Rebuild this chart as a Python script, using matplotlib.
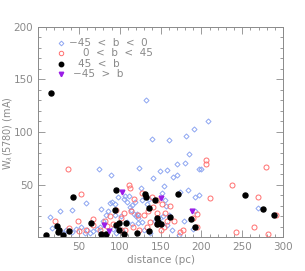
import matplotlib
matplotlib.use("Agg")
import matplotlib.pyplot as plt
from matplotlib.ticker import MultipleLocator

# -45 < b < 0
blue_x = [132, 208, 191, 181, 140, 160, 185, 170, 180, 199, 197, 124, 74, 149, 158,
          170, 165, 89, 141, 154, 174, 184, 197, 192, 59, 41, 27, 14, 17, 269, 77,
          172, 190, 179, 192, 126,
          88, 91, 94, 98, 105, 107, 111, 109, 113, 114, 117, 121, 120, 127, 136, 133,
          152, 155, 157, 160, 153, 149, 143, 127, 122, 115, 109, 101, 94, 86, 83, 80,
          76, 72, 67, 60, 53, 47, 41, 34, 30, 58, 64, 92, 96, 103, 130, 137, 158, 164,
          115, 119, 122]
blue_y = [130, 110, 103, 96, 93, 92, 79, 70, 71, 65, 65, 66, 65, 63, 64,
          59, 57, 59, 56, 49, 43, 45, 40, 38, 33, 26, 25, 19, 9, 28, 27,
          2, 8, 16, 25, 47,
          33, 34, 32, 38, 36, 39, 39, 34, 29, 26, 22, 22, 20, 35, 36, 32,
          42, 35, 30, 21, 20, 18, 16, 15, 14, 13, 15, 20, 21, 25, 21, 16,
          10, 8, 6, 7, 10, 8, 5, 7, 4, 4, 4, 8, 4, 7, 7, 4, 12, 7,
          31, 34, 18]

# 0 < b < 45
red_x = [36, 206, 206, 279, 237, 210, 269, 242, 265, 282, 291, 194, 195, 177, 52, 49,
         21, 50, 38, 67, 59, 111, 112, 127, 117, 139, 145, 152, 161, 141, 135, 146,
         130, 122, 114, 105, 96, 101, 88, 82, 92, 84, 76, 67, 137, 146, 154, 158, 166,
         150, 133, 123, 116, 107, 101, 174, 190, 156]
red_y = [65, 73, 70, 67, 50, 37, 38, 5, 10, 3, 21, 22, 10, 7, 41, 16,
         16, 6, 9, 17, 7, 50, 47, 42, 36, 38, 35, 32, 30, 29, 25, 23,
         21, 21, 25, 23, 26, 18, 20, 16, 13, 11, 7, 12, 15, 13, 10, 16, 16,
         7, 10, 7, 10, 7, 7, 5, 18, 23]

# 45 < b
black_x = [16, 10, 23, 24, 26, 30, 38, 43, 65, 77, 83, 96, 94, 95, 99, 99, 105, 108,
           121, 131, 132, 136, 143, 171, 162, 146, 147, 146, 151, 136, 187, 192, 253,
           276, 289]
black_y = [137, 2, 11, 5, 7, 2, 6, 38, 14, 3, 3, 45, 26, 12, 14, 7, 3, 14,
           4, 41, 38, 28, 35, 41, 19, 18, 15, 13, 13, 6, 17, 10, 40,
           27, 21]

# -45 > b
purple_x = [103, 150, 189, 81, 87]
purple_y = [43, 37, 25, 12, 6]

legend_labels = ["\u221245  <  b  <  0", "0  <  b  <  45", "45  <  b", "\u221245  >  b"]

gray = "#8a8a8a"
plt.rcParams["font.family"] = "DejaVu Sans"

fig = plt.figure(figsize=(3.05, 2.71), dpi=100)
ax = fig.add_axes([0.125, 0.124, 0.803, 0.778])

ax.plot(blue_x, blue_y, "D", ms=2.6, mfc="none", mec="#8ea6f2", mew=0.7, ls="none")
ax.plot(red_x, red_y, "o", ms=3.6, mfc="none", mec="#ff6f6f", mew=0.7, ls="none")
ax.plot(black_x, black_y, "o", ms=3.6, color="black", ls="none")
ax.plot(purple_x, purple_y, "v", ms=3.4, color="#9a1de6", ls="none")

ax.set_xlim(0, 300)
ax.set_ylim(0, 200)
ax.xaxis.set_minor_locator(MultipleLocator(10))
ax.yaxis.set_minor_locator(MultipleLocator(10))
ax.set_xticks([50, 100, 150, 200, 250, 300])
ax.set_yticks([50, 100, 150, 200])
ax.tick_params(which="both", direction="in", top=True, right=True, color=gray,
               labelcolor=gray, labelsize=7.5, width=0.6)
ax.tick_params(which="major", length=5)
ax.tick_params(which="minor", length=2.5)
for s in ax.spines.values():
    s.set_color(gray)
    s.set_linewidth(0.7)

ax.set_xlabel("distance (pc)", color=gray, fontsize=7.5, labelpad=2)
fig.text(8 / 305, 0.51, r"W$_\lambda$(5780) (mA)", color=gray, fontsize=7,
         rotation=90, ha="center", va="center")

# legend drawn IDL style
text_x = [0.127, 0.184, 0.162, 0.143]
styles = [dict(marker="D", ms=2.4, mfc="none", mec="#8ea6f2", mew=0.7),
          dict(marker="o", ms=3.2, mfc="none", mec="#ff6f6f", mew=0.7),
          dict(marker="o", ms=3.2, color="black"),
          dict(marker="v", ms=3.2, color="#9a1de6")]
for i, (lab, st) in enumerate(zip(legend_labels, styles)):
    yy = 0.922 - i * 0.049
    ax.plot([0.094], [yy], transform=ax.transAxes, ls="none", **st)
    ax.text(text_x[i], yy, lab, transform=ax.transAxes, color=gray, fontsize=7.5,
            va="center", ha="left")

fig.savefig("out.png", dpi=100)
